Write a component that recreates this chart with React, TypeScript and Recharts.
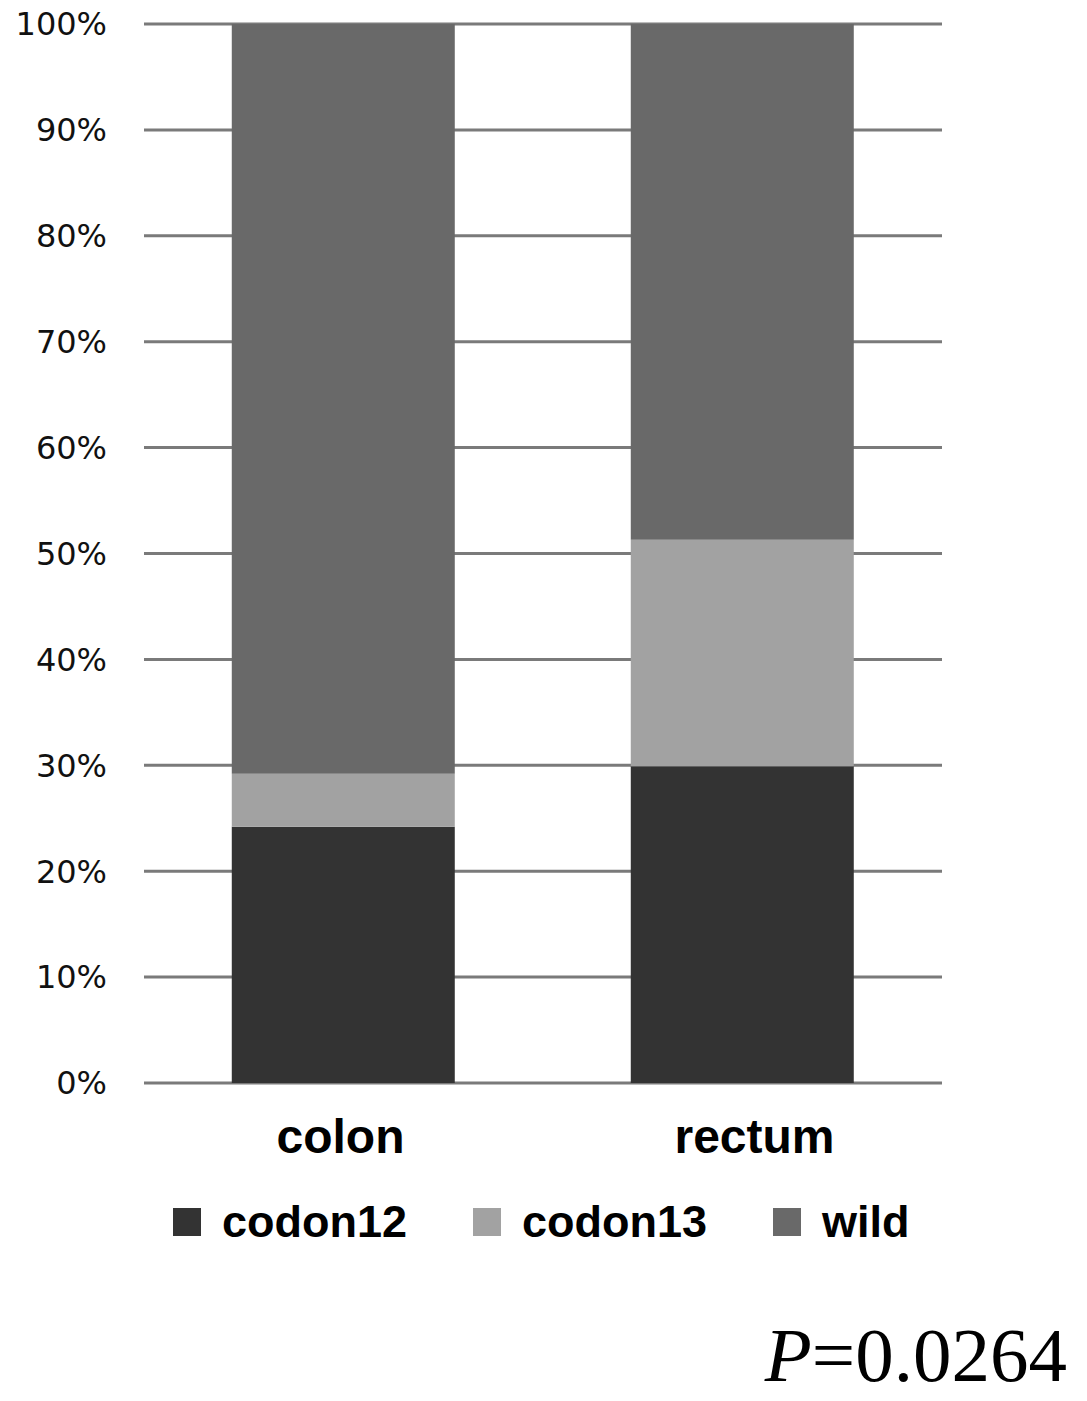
import React from "react";
import {
  BarChart,
  Bar,
  XAxis,
  YAxis,
  CartesianGrid,
  Legend,
} from "recharts";

const sites = ["colon", "rectum"];
const codon12 = [24.2, 29.9];
const codon13 = [5.0, 21.4];
const wild = [70.8, 48.7];
const yTicks = [0, 10, 20, 30, 40, 50, 60, 70, 80, 90, 100];

const seriesNames = ["codon12", "codon13", "wild"];
const seriesColors = ["#333333", "#a2a2a2", "#696969"];

const data = sites.map((site, i) => ({
  site,
  codon12: codon12[i],
  codon13: codon13[i],
  wild: wild[i],
}));

// nudge the category labels a little, as in the original figure
const labelShift: Record<string, number> = { colon: -3, rectum: 12 };

function SiteTick({ x, y, payload }: any) {
  return (
    <text
      x={x + (labelShift[payload.value] || 0)}
      y={y}
      dy="0.71em"
      textAnchor="middle"
      fontFamily="'Liberation Sans', Arial, sans-serif"
      fontWeight="bold"
      fontSize={48}
      fill="#000"
    >
      {payload.value}
    </text>
  );
}

function LegendBox({ payload }: any) {
  return (
    <div style={{ display: "flex", alignItems: "center", paddingLeft: 173 }}>
      {(payload || []).map((entry: any) => (
        <div
          key={entry.value}
          style={{ display: "flex", alignItems: "center", marginRight: 66 }}
        >
          <span
            style={{
              display: "inline-block",
              width: 28,
              height: 28,
              background: entry.color,
              marginRight: 21,
            }}
          />
          <span
            style={{
              fontFamily: "'Liberation Sans', Arial, sans-serif",
              fontWeight: "bold",
              fontSize: 45,
              color: "#000",
            }}
          >
            {entry.value}
          </span>
        </div>
      ))}
    </div>
  );
}

export default function App() {
  return (
    <div
      style={{
        position: "absolute",
        left: 0,
        top: 0,
        width: 1087,
        height: 1401,
        background: "#fff",
        overflow: "hidden",
      }}
    >
      <BarChart
        width={1087}
        height={1280}
        data={data}
        barCategoryGap="22%"
        margin={{ top: 24, right: 145, left: 0, bottom: 47 }}
      >
        <CartesianGrid vertical={false} stroke="#7a7a7a" strokeWidth={3} />
        <XAxis
          dataKey="site"
          axisLine={false}
          tickLine={false}
          tickSize={0}
          tickMargin={36}
          height={90}
          tick={<SiteTick />}
        />
        <YAxis
          domain={[0, 100]}
          ticks={yTicks}
          interval={0}
          width={144}
          axisLine={false}
          tickLine={false}
          tickSize={0}
          tickMargin={37}
          tickFormatter={(v) => `${v}%`}
          tick={{
            fontFamily: "'DejaVu Sans', Verdana, sans-serif",
            fontSize: 32,
            fill: "#111",
          }}
        />
        <Legend
          verticalAlign="bottom"
          height={60}
          content={<LegendBox />}
          wrapperStyle={{ top: 1196, left: 0, width: 1087 }}
        />
        {seriesNames.map((name, i) => (
          <Bar
            key={name}
            dataKey={name}
            name={name}
            stackId="a"
            fill={seriesColors[i]}
            isAnimationActive={false}
          />
        ))}
      </BarChart>
      <div
        style={{
          position: "absolute",
          right: 20,
          top: 1312,
          fontFamily: "'Liberation Serif', 'Times New Roman', serif",
          fontSize: 77,
          lineHeight: "86px",
          color: "#000",
          whiteSpace: "nowrap",
        }}
      >
        <i>P</i>=0.0264
      </div>
    </div>
  );
}
